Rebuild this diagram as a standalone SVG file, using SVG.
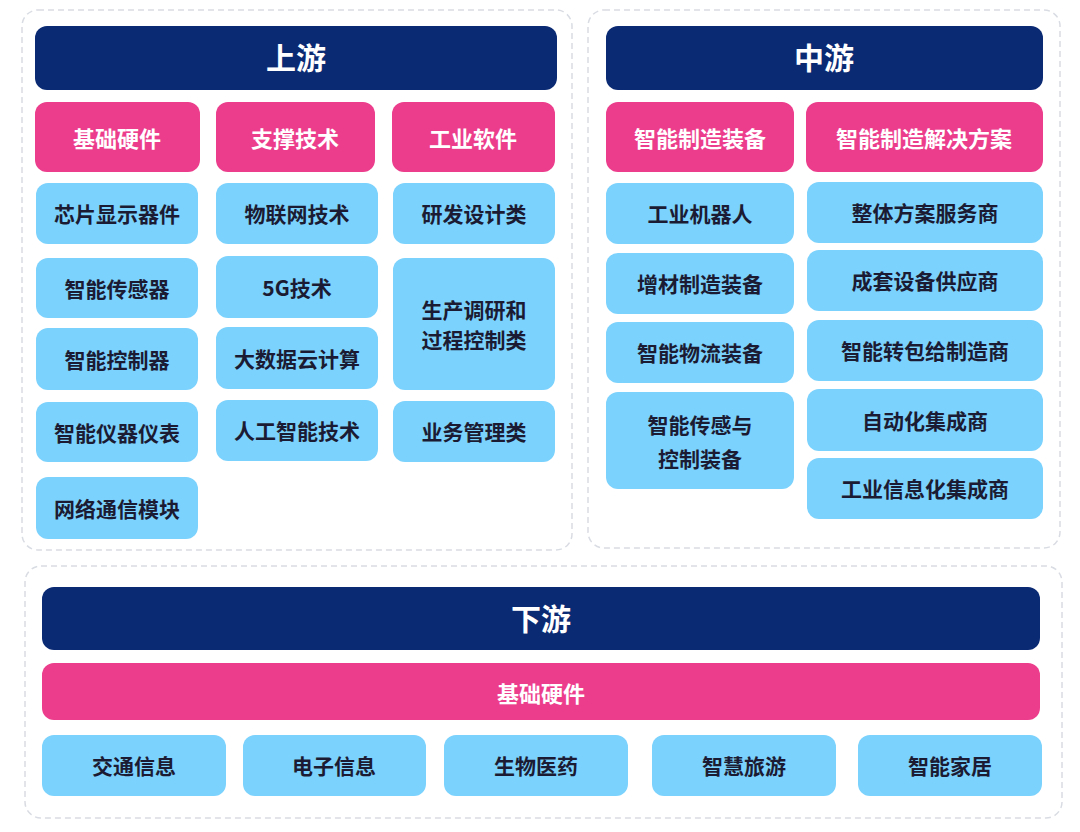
<svg xmlns="http://www.w3.org/2000/svg" width="1080" height="832" viewBox="0 0 1080 832">
<style>
.c{fill:none;stroke:#d9dce3;stroke-width:1.5;stroke-dasharray:6 4}
.h{fill:#0b2a74}
.p{fill:#ec3d8c}
.b{fill:#7bd2fd}
.ht{fill:#fff;font:bold 30px "Noto Sans CJK SC",sans-serif;text-anchor:middle;dominant-baseline:central}
.pt{fill:#fff;font:bold 22px "Noto Sans CJK SC",sans-serif;text-anchor:middle;dominant-baseline:central}
.bt{fill:#1b1b33;font:bold 21px "Noto Sans CJK SC",sans-serif;text-anchor:middle;dominant-baseline:central}
</style>
<rect width="1080" height="832" fill="#fff"/>
<rect class="c" x="22" y="10" width="550" height="540" rx="16"/>
<rect class="c" x="588" y="10" width="472" height="538" rx="16"/>
<rect class="c" x="25" y="566" width="1037" height="252" rx="16"/>
<g id="up"><rect class="h" x="35" y="26" width="522" height="64" rx="12"/><text class="ht" x="296" y="56">上游</text></g>
<g id="mid"><rect class="h" x="606" y="26" width="437" height="64" rx="12"/><text class="ht" x="824" y="56">中游</text></g>
<g id="down"><rect class="h" x="42" y="587" width="998" height="63" rx="12"/><text class="ht" x="541" y="617">下游</text></g>
<g id="u1"><rect class="p" x="35" y="102" width="165" height="70" rx="12"/><text class="pt" x="117" y="137">基础硬件</text></g>
<g id="u2"><rect class="p" x="216" y="102" width="159" height="70" rx="12"/><text class="pt" x="295" y="137">支撑技术</text></g>
<g id="u3"><rect class="p" x="392" y="102" width="163" height="70" rx="12"/><text class="pt" x="473" y="137">工业软件</text></g>
<g id="m1"><rect class="p" x="606" y="102" width="188" height="70" rx="12"/><text class="pt" x="700" y="137">智能制造装备</text></g>
<g id="m2"><rect class="p" x="806" y="102" width="237" height="70" rx="12"/><text class="pt" x="924" y="137">智能制造解决方案</text></g>
<g id="d0"><rect class="p" x="42" y="663" width="998" height="57" rx="12"/><text class="pt" x="541" y="692">基础硬件</text></g>
<g id="a1"><rect class="b" x="36" y="183" width="162" height="61" rx="12"/><text class="bt" x="117" y="213">芯片显示器件</text></g>
<g id="a2"><rect class="b" x="36" y="258" width="162" height="60" rx="12"/><text class="bt" x="117" y="288">智能传感器</text></g>
<g id="a3"><rect class="b" x="36" y="328" width="162" height="62" rx="12"/><text class="bt" x="117" y="359">智能控制器</text></g>
<g id="a4"><rect class="b" x="36" y="402" width="162" height="60" rx="12"/><text class="bt" x="117" y="432">智能仪器仪表</text></g>
<g id="a5"><rect class="b" x="36" y="477" width="162" height="62" rx="12"/><text class="bt" x="117" y="508">网络通信模块</text></g>
<g id="b1"><rect class="b" x="216" y="183" width="162" height="61" rx="12"/><text class="bt" x="297" y="213">物联网技术</text></g>
<g id="b2"><rect class="b" x="216" y="256" width="162" height="62" rx="12"/><text class="bt" x="297" y="287">5G技术</text></g>
<g id="b3"><rect class="b" x="216" y="327" width="162" height="62" rx="12"/><text class="bt" x="297" y="358">大数据云计算</text></g>
<g id="b4"><rect class="b" x="216" y="400" width="162" height="61" rx="12"/><text class="bt" x="297" y="430">人工智能技术</text></g>
<g id="c1"><rect class="b" x="393" y="183" width="162" height="61" rx="12"/><text class="bt" x="474" y="213">研发设计类</text></g>
<g id="c2"><rect class="b" x="393" y="258" width="162" height="132" rx="12"/><text class="bt" x="474" y="309">生产调研和</text><text class="bt" x="474" y="339">过程控制类</text></g>
<g id="c3"><rect class="b" x="393" y="401" width="162" height="61" rx="12"/><text class="bt" x="474" y="431">业务管理类</text></g>
<g id="e1"><rect class="b" x="606" y="183" width="188" height="61" rx="12"/><text class="bt" x="700" y="213">工业机器人</text></g>
<g id="e2"><rect class="b" x="606" y="253" width="188" height="61" rx="12"/><text class="bt" x="700" y="283">增材制造装备</text></g>
<g id="e3"><rect class="b" x="606" y="322" width="188" height="61" rx="12"/><text class="bt" x="700" y="352">智能物流装备</text></g>
<g id="e4"><rect class="b" x="606" y="392" width="188" height="97" rx="12"/><text class="bt" x="700" y="424">智能传感与</text><text class="bt" x="700" y="458">控制装备</text></g>
<g id="f1"><rect class="b" x="807" y="182" width="236" height="61" rx="12"/><text class="bt" x="925" y="212">整体方案服务商</text></g>
<g id="f2"><rect class="b" x="807" y="250" width="236" height="61" rx="12"/><text class="bt" x="925" y="280">成套设备供应商</text></g>
<g id="f3"><rect class="b" x="807" y="320" width="236" height="61" rx="12"/><text class="bt" x="925" y="350">智能转包给制造商</text></g>
<g id="f4"><rect class="b" x="807" y="389" width="236" height="62" rx="12"/><text class="bt" x="925" y="420">自动化集成商</text></g>
<g id="f5"><rect class="b" x="807" y="458" width="236" height="61" rx="12"/><text class="bt" x="925" y="488">工业信息化集成商</text></g>
<g id="g1"><rect class="b" x="42" y="735" width="184" height="61" rx="12"/><text class="bt" x="134" y="765">交通信息</text></g>
<g id="g2"><rect class="b" x="243" y="735" width="183" height="61" rx="12"/><text class="bt" x="334" y="765">电子信息</text></g>
<g id="g3"><rect class="b" x="444" y="735" width="184" height="61" rx="12"/><text class="bt" x="536" y="765">生物医药</text></g>
<g id="g4"><rect class="b" x="652" y="735" width="184" height="61" rx="12"/><text class="bt" x="744" y="765">智慧旅游</text></g>
<g id="g5"><rect class="b" x="858" y="735" width="184" height="61" rx="12"/><text class="bt" x="950" y="765">智能家居</text></g>
<g id="connectors"/>
</svg>
